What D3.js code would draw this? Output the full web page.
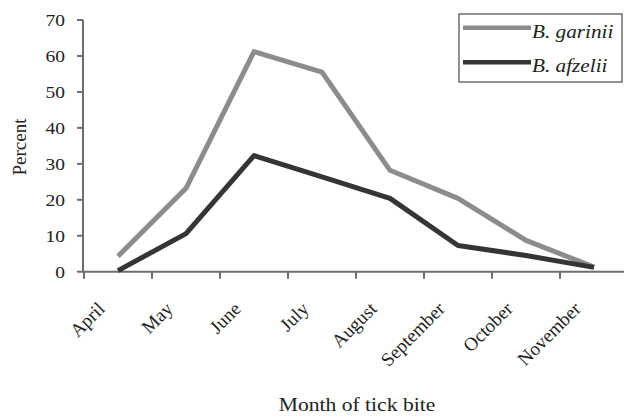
<!DOCTYPE html>
<html>
<head>
<meta charset="utf-8">
<script src="https://cdn.jsdelivr.net/npm/d3@7"></script>
<style>
  html, body { margin: 0; padding: 0; background: #fff; }
  svg { display: block; }
  text { font-family: "Liberation Serif", "Times New Roman", serif; fill: #222; }
</style>
</head>
<body>
<svg id="chart" width="624" height="419"></svg>
<script>
const months = ["April", "May", "June", "July", "August", "September", "October", "November"];
const garinii = [4.3, 23.2, 61.2, 55.5, 28.2, 20.4, 8.7, 1.3];
const afzelii = [0.3, 10.6, 32.3, 26.4, 20.4, 7.3, 4.5, 1.2];
const seriesNames = ["B. garinii", "B. afzelii"];
const yTicks = [0, 10, 20, 30, 40, 50, 60, 70];
const xTitle = "Month of tick bite";
const yTitle = "Percent";

const svg = d3.select("#chart");
const axisColor = "#6e6e6e";
const colors = ["#8c8c8c", "#353535"];

const x = d3.scaleBand().domain(months).range([84, 628]).paddingInner(0).paddingOuter(0);
const y = d3.scaleLinear().domain([0, 70]).range([271.7, 20]);

// Y axis
const yAxis = svg.append("g").attr("transform", "translate(83,0)");
yAxis.append("line").attr("x1", 0).attr("x2", 0).attr("y1", y(70)).attr("y2", y(0))
  .attr("stroke", axisColor).attr("stroke-width", 2);
yTicks.forEach(t => {
  yAxis.append("line").attr("x1", -6).attr("x2", 0).attr("y1", y(t)).attr("y2", y(t))
    .attr("stroke", axisColor).attr("stroke-width", 2);
  yAxis.append("text")
    .attr("transform", `translate(-18,${y(t) + 6}) scale(1.15,1)`)
    .attr("text-anchor", "end")
    .attr("font-size", "17px")
    .text(t);
});

// X axis
const xAxis = svg.append("g");
xAxis.append("line").attr("x1", 83).attr("x2", 628).attr("y1", y(0)).attr("y2", y(0))
  .attr("stroke", axisColor).attr("stroke-width", 2);
months.forEach(m => {
  const bx = x(m);
  xAxis.append("line").attr("x1", bx).attr("x2", bx).attr("y1", y(0)).attr("y2", y(0) + 7)
    .attr("stroke", axisColor).attr("stroke-width", 2);
  const cx = bx + x.bandwidth() / 2;
  xAxis.append("text")
    .attr("transform", `translate(${cx - 12},${310}) rotate(-45)`)
    .attr("text-anchor", "end")
    .attr("font-size", "19px")
    .text(m);
});
xAxis.append("line").attr("x1", 628).attr("x2", 628).attr("y1", y(0)).attr("y2", y(0) + 7)
  .attr("stroke", axisColor).attr("stroke-width", 2);

// Lines
const line = d3.line().x((d, i) => x(months[i]) + x.bandwidth() / 2).y(d => y(d));
[garinii, afzelii].forEach((s, i) => {
  svg.append("path").datum(s)
    .attr("d", line)
    .attr("fill", "none")
    .attr("stroke", colors[i])
    .attr("stroke-width", 5)
    .attr("stroke-linejoin", "round")
    .attr("stroke-linecap", "butt");
});

// Axis titles
svg.append("text")
  .attr("transform", `translate(357,411) scale(1.2,1)`)
  .attr("text-anchor", "middle")
  .attr("font-size", "18px")
  .text(xTitle);
svg.append("text")
  .attr("transform", `translate(26,147) rotate(-90)`)
  .attr("text-anchor", "middle")
  .attr("font-size", "19px")
  .text(yTitle);

// Legend
const lg = svg.append("g");
lg.append("rect").attr("x", 459).attr("y", 14).attr("width", 163).attr("height", 68)
  .attr("fill", "#fff").attr("stroke", axisColor).attr("stroke-width", 1.5);
const legY = [27.7, 62.3];
seriesNames.forEach((n, i) => {
  lg.append("line").attr("x1", 463).attr("x2", 531).attr("y1", legY[i]).attr("y2", legY[i])
    .attr("stroke", colors[i]).attr("stroke-width", 4.5);
  lg.append("text")
    .attr("transform", `translate(532,${legY[i] + 10}) scale(1.18,1)`)
    .attr("font-size", "18px")
    .attr("font-style", "italic")
    .text(n);
});
</script>
</body>
</html>
